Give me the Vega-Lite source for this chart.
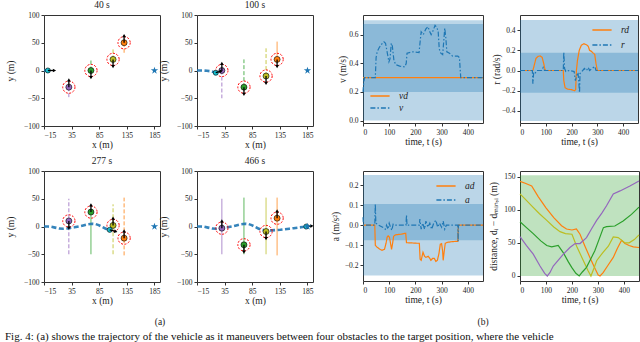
{
 "$schema": "https://vega.github.io/schema/vega-lite/v6.json",
 "padding": {"left": 5, "top": -1, "right": 0, "bottom": 0},
 "background": "white",
 "datasets": {
  "traj": [
   {"p":"40 s","t":"tr","o":"o1","k":"d","x":30,"y":-30,"y2":-50},
   {"p":"40 s","t":"tr","o":"o2","k":"d","x":70,"y":0,"y2":20},
   {"p":"40 s","t":"tr","o":"o3","k":"d","x":110,"y":20,"y2":40},
   {"p":"40 s","t":"tr","o":"o4","k":"d","x":130,"y":50,"y2":30},
   {"p":"40 s","t":"path","x":-15,"y":0},
   {"p":"40 s","t":"path","x":-8,"y":0},
   {"p":"40 s","t":"ob","o":"o1","x":30,"y":-30},
   {"p":"40 s","t":"ob","o":"o2","x":70,"y":0},
   {"p":"40 s","t":"ob","o":"o3","x":110,"y":20},
   {"p":"40 s","t":"ob","o":"o4","x":130,"y":50},
   {"p":"40 s","t":"veh","x":-8,"y":0},
   {"p":"40 s","t":"arr","x":-8,"y":0,"x2":4,"y2":0,"hd":90},
   {"p":"40 s","t":"arr","x":30,"y":-30,"x2":30,"y2":-17,"hd":0},
   {"p":"40 s","t":"arr","x":70,"y":0,"x2":70,"y2":-13,"hd":180},
   {"p":"40 s","t":"arr","x":110,"y":20,"x2":110,"y2":7,"hd":180},
   {"p":"40 s","t":"arr","x":130,"y":50,"x2":130,"y2":63,"hd":0},
   {"p":"40 s","t":"star","x":185,"y":0},

   {"p":"100 s","t":"tr","o":"o1","k":"d","x":30,"y":0,"y2":-50},
   {"p":"100 s","t":"tr","o":"o2","k":"d","x":70,"y":-30,"y2":20},
   {"p":"100 s","t":"tr","o":"o3","k":"d","x":110,"y":-10,"y2":40},
   {"p":"100 s","t":"tr","o":"o4","k":"s","x":130,"y":20,"y2":52},
   {"p":"100 s","t":"path","x":-15,"y":0},
   {"p":"100 s","t":"path","x":-5,"y":0},
   {"p":"100 s","t":"path","x":3,"y":-0.5},
   {"p":"100 s","t":"path","x":10,"y":-1.5},
   {"p":"100 s","t":"path","x":16,"y":-3},
   {"p":"100 s","t":"path","x":19,"y":-4},
   {"p":"100 s","t":"ob","o":"o1","x":30,"y":0},
   {"p":"100 s","t":"ob","o":"o2","x":70,"y":-30},
   {"p":"100 s","t":"ob","o":"o3","x":110,"y":-10},
   {"p":"100 s","t":"ob","o":"o4","x":130,"y":20},
   {"p":"100 s","t":"veh","x":19,"y":-4},
   {"p":"100 s","t":"arr","x":19,"y":-4,"x2":29,"y2":-1,"hd":73},
   {"p":"100 s","t":"arr","x":30,"y":0,"x2":30,"y2":13,"hd":0},
   {"p":"100 s","t":"arr","x":70,"y":-30,"x2":70,"y2":-43,"hd":180},
   {"p":"100 s","t":"arr","x":110,"y":-10,"x2":110,"y2":-23,"hd":180},
   {"p":"100 s","t":"arr","x":130,"y":20,"x2":130,"y2":7,"hd":180},
   {"p":"100 s","t":"star","x":185,"y":0},

   {"p":"277 s","t":"tr","o":"o1","k":"d","x":30,"y":-50,"y2":50},
   {"p":"277 s","t":"tr","o":"o2","k":"s","x":70,"y":-50,"y2":26},
   {"p":"277 s","t":"tr","o":"o3","k":"d","x":110,"y":-50,"y2":40},
   {"p":"277 s","t":"tr","o":"o4","k":"d","x":130,"y":-52,"y2":52},
   {"p":"277 s","t":"path","x":-15,"y":0},
   {"p":"277 s","t":"path","x":-8,"y":0},
   {"p":"277 s","t":"path","x":-2,"y":-0.5},
   {"p":"277 s","t":"path","x":5,"y":-2},
   {"p":"277 s","t":"path","x":12,"y":-3.5},
   {"p":"277 s","t":"path","x":20,"y":-4},
   {"p":"277 s","t":"path","x":27,"y":-3.5},
   {"p":"277 s","t":"path","x":33,"y":-2.5},
   {"p":"277 s","t":"path","x":40,"y":-1.5},
   {"p":"277 s","t":"path","x":48,"y":0},
   {"p":"277 s","t":"path","x":56,"y":2},
   {"p":"277 s","t":"path","x":64,"y":4},
   {"p":"277 s","t":"path","x":72,"y":5},
   {"p":"277 s","t":"path","x":78,"y":4.5},
   {"p":"277 s","t":"path","x":84,"y":2.5},
   {"p":"277 s","t":"path","x":90,"y":-0.5},
   {"p":"277 s","t":"path","x":96,"y":-3.5},
   {"p":"277 s","t":"path","x":101,"y":-5.5},
   {"p":"277 s","t":"path","x":104,"y":-6},
   {"p":"277 s","t":"ob","o":"o1","x":30,"y":10},
   {"p":"277 s","t":"ob","o":"o2","x":70,"y":26},
   {"p":"277 s","t":"ob","o":"o3","x":110,"y":2},
   {"p":"277 s","t":"ob","o":"o4","x":130,"y":-21},
   {"p":"277 s","t":"veh","x":104,"y":-6},
   {"p":"277 s","t":"arr","x":104,"y":-6,"x2":115,"y2":-9,"hd":105},
   {"p":"277 s","t":"arr","x":30,"y":10,"x2":30,"y2":-3,"hd":180},
   {"p":"277 s","t":"arr","x":70,"y":26,"x2":70,"y2":39,"hd":0},
   {"p":"277 s","t":"arr","x":110,"y":2,"x2":110,"y2":15,"hd":0},
   {"p":"277 s","t":"arr","x":130,"y":-21,"x2":130,"y2":-8,"hd":0},
   {"p":"277 s","t":"star","x":185,"y":0},

   {"p":"466 s","t":"tr","o":"o1","k":"s","x":30,"y":-50,"y2":50},
   {"p":"466 s","t":"tr","o":"o2","k":"s","x":70,"y":-50,"y2":52},
   {"p":"466 s","t":"tr","o":"o3","k":"s","x":110,"y":-50,"y2":52},
   {"p":"466 s","t":"tr","o":"o4","k":"s","x":130,"y":-52,"y2":52},
   {"p":"466 s","t":"path","x":-15,"y":0},
   {"p":"466 s","t":"path","x":-8,"y":0},
   {"p":"466 s","t":"path","x":-2,"y":-0.5},
   {"p":"466 s","t":"path","x":5,"y":-2},
   {"p":"466 s","t":"path","x":12,"y":-3.5},
   {"p":"466 s","t":"path","x":20,"y":-4},
   {"p":"466 s","t":"path","x":27,"y":-3.5},
   {"p":"466 s","t":"path","x":33,"y":-2.5},
   {"p":"466 s","t":"path","x":40,"y":-1.5},
   {"p":"466 s","t":"path","x":48,"y":0},
   {"p":"466 s","t":"path","x":56,"y":2},
   {"p":"466 s","t":"path","x":64,"y":4},
   {"p":"466 s","t":"path","x":72,"y":5},
   {"p":"466 s","t":"path","x":78,"y":4.5},
   {"p":"466 s","t":"path","x":84,"y":2.5},
   {"p":"466 s","t":"path","x":90,"y":-0.5},
   {"p":"466 s","t":"path","x":96,"y":-3.5},
   {"p":"466 s","t":"path","x":101,"y":-5.5},
   {"p":"466 s","t":"path","x":106,"y":-6.5},
   {"p":"466 s","t":"path","x":112,"y":-7},
   {"p":"466 s","t":"path","x":120,"y":-7},
   {"p":"466 s","t":"path","x":128,"y":-6.5},
   {"p":"466 s","t":"path","x":136,"y":-6},
   {"p":"466 s","t":"path","x":144,"y":-5},
   {"p":"466 s","t":"path","x":152,"y":-4},
   {"p":"466 s","t":"path","x":160,"y":-3},
   {"p":"466 s","t":"path","x":168,"y":-2},
   {"p":"466 s","t":"path","x":176,"y":-1},
   {"p":"466 s","t":"path","x":183,"y":0},
   {"p":"466 s","t":"ob","o":"o1","x":30,"y":-3},
   {"p":"466 s","t":"ob","o":"o2","x":70,"y":-33},
   {"p":"466 s","t":"ob","o":"o3","x":110,"y":-9},
   {"p":"466 s","t":"ob","o":"o4","x":130,"y":15},
   {"p":"466 s","t":"veh","x":183,"y":0},
   {"p":"466 s","t":"arr","x":183,"y":0,"x2":193,"y2":1,"hd":84},
   {"p":"466 s","t":"arr","x":30,"y":-3,"x2":30,"y2":10,"hd":0},
   {"p":"466 s","t":"arr","x":70,"y":-33,"x2":70,"y2":-46,"hd":180},
   {"p":"466 s","t":"arr","x":110,"y":-9,"x2":110,"y2":-22,"hd":180},
   {"p":"466 s","t":"arr","x":130,"y":15,"x2":130,"y2":28,"hd":0},
   {"p":"466 s","t":"star","x":185,"y":0}
  ],
  "bands": [
   {"pn":"v","lo":0,"hi":0.7},{"pn":"v","lo":0.2,"hi":0.675},
   {"pn":"r","lo":-0.5,"hi":0.5},{"pn":"r","lo":-0.22,"hi":0.175},
   {"pn":"a","lo":-0.25,"hi":0.25},{"pn":"a","lo":-0.075,"hi":0.105},
   {"pn":"d","lo":0,"hi":152}
  ],
  "vel": [
   {"s":"vd","t":0,"val":0.3},{"s":"vd","t":458,"val":0.3},
   {"s":"v","t":0,"val":0.2},{"s":"v","t":3,"val":0.27},{"s":"v","t":6,"val":0.3},{"s":"v","t":47,"val":0.3},
   {"s":"v","t":50,"val":0.44},{"s":"v","t":54,"val":0.48},{"s":"v","t":62,"val":0.51},{"s":"v","t":72,"val":0.535},
   {"s":"v","t":80,"val":0.55},{"s":"v","t":86,"val":0.54},{"s":"v","t":92,"val":0.48},{"s":"v","t":99,"val":0.41},
   {"s":"v","t":103,"val":0.43},{"s":"v","t":108,"val":0.54},{"s":"v","t":112,"val":0.52},{"s":"v","t":118,"val":0.42},
   {"s":"v","t":125,"val":0.39},{"s":"v","t":140,"val":0.38},{"s":"v","t":160,"val":0.375},{"s":"v","t":165,"val":0.4},
   {"s":"v","t":168,"val":0.47},{"s":"v","t":190,"val":0.48},{"s":"v","t":214,"val":0.475},{"s":"v","t":218,"val":0.55},
   {"s":"v","t":222,"val":0.62},{"s":"v","t":230,"val":0.6},{"s":"v","t":240,"val":0.64},{"s":"v","t":248,"val":0.655},
   {"s":"v","t":255,"val":0.62},{"s":"v","t":260,"val":0.6},{"s":"v","t":268,"val":0.63},{"s":"v","t":275,"val":0.665},
   {"s":"v","t":282,"val":0.65},{"s":"v","t":287,"val":0.62},{"s":"v","t":291,"val":0.5},{"s":"v","t":297,"val":0.47},
   {"s":"v","t":304,"val":0.46},{"s":"v","t":308,"val":0.55},{"s":"v","t":312,"val":0.645},{"s":"v","t":316,"val":0.58},
   {"s":"v","t":320,"val":0.48},{"s":"v","t":330,"val":0.47},{"s":"v","t":342,"val":0.45},{"s":"v","t":362,"val":0.45},
   {"s":"v","t":368,"val":0.44},{"s":"v","t":373,"val":0.3},{"s":"v","t":458,"val":0.3}
  ],
  "yaw": [
   {"s":"rd","t":0,"val":0},{"s":"rd","t":50,"val":0},{"s":"rd","t":55,"val":0.05},{"s":"rd","t":62,"val":0.12},
   {"s":"rd","t":70,"val":0.14},{"s":"rd","t":78,"val":0.145},{"s":"rd","t":86,"val":0.13},{"s":"rd","t":92,"val":0.07},
   {"s":"rd","t":96,"val":0.02},{"s":"rd","t":100,"val":0},{"s":"rd","t":168,"val":0},{"s":"rd","t":170,"val":-0.1},
   {"s":"rd","t":175,"val":-0.17},{"s":"rd","t":185,"val":-0.185},{"s":"rd","t":200,"val":-0.19},{"s":"rd","t":212,"val":-0.2},
   {"s":"rd","t":216,"val":-0.19},{"s":"rd","t":219,"val":0},{"s":"rd","t":223,"val":0.1},{"s":"rd","t":230,"val":0.2},
   {"s":"rd","t":238,"val":0.25},{"s":"rd","t":248,"val":0.265},{"s":"rd","t":258,"val":0.255},{"s":"rd","t":265,"val":0.24},
   {"s":"rd","t":270,"val":0.2},{"s":"rd","t":277,"val":0.19},{"s":"rd","t":285,"val":0.17},{"s":"rd","t":290,"val":0.16},
   {"s":"rd","t":295,"val":0.07},{"s":"rd","t":300,"val":0},{"s":"rd","t":458,"val":0},
   {"s":"r","t":0,"val":0},{"s":"r","t":48,"val":0},{"s":"r","t":50,"val":-0.13},{"s":"r","t":53,"val":-0.02},
   {"s":"r","t":58,"val":-0.03},{"s":"r","t":65,"val":0},{"s":"r","t":85,"val":0},{"s":"r","t":90,"val":0.03},
   {"s":"r","t":95,"val":0},{"s":"r","t":168,"val":0},{"s":"r","t":170,"val":0.18},{"s":"r","t":173,"val":0.02},
   {"s":"r","t":178,"val":-0.01},{"s":"r","t":190,"val":0},{"s":"r","t":210,"val":-0.01},{"s":"r","t":215,"val":-0.1},
   {"s":"r","t":220,"val":-0.05},{"s":"r","t":225,"val":-0.02},{"s":"r","t":228,"val":-0.1},{"s":"r","t":231,"val":-0.22},
   {"s":"r","t":233,"val":-0.03},{"s":"r","t":240,"val":-0.01},{"s":"r","t":250,"val":0.02},{"s":"r","t":258,"val":0},
   {"s":"r","t":265,"val":0.03},{"s":"r","t":270,"val":0},{"s":"r","t":280,"val":0.02},{"s":"r","t":290,"val":0.04},
   {"s":"r","t":295,"val":0},{"s":"r","t":458,"val":0}
  ],
  "acc": [
   {"s":"ad","t":0,"val":0},{"s":"ad","t":45,"val":0},{"s":"ad","t":47,"val":-0.1},{"s":"ad","t":54,"val":-0.11},
   {"s":"ad","t":65,"val":-0.12},{"s":"ad","t":73,"val":-0.125},{"s":"ad","t":82,"val":-0.12},{"s":"ad","t":88,"val":-0.09},
   {"s":"ad","t":92,"val":-0.06},{"s":"ad","t":96,"val":-0.053},{"s":"ad","t":101,"val":-0.06},{"s":"ad","t":105,"val":-0.09},
   {"s":"ad","t":109,"val":-0.12},{"s":"ad","t":113,"val":-0.09},{"s":"ad","t":117,"val":-0.055},{"s":"ad","t":124,"val":-0.048},
   {"s":"ad","t":144,"val":-0.045},{"s":"ad","t":163,"val":-0.04},{"s":"ad","t":166,"val":-0.087},{"s":"ad","t":208,"val":-0.09},
   {"s":"ad","t":215,"val":-0.09},{"s":"ad","t":218,"val":-0.17},{"s":"ad","t":222,"val":-0.175},{"s":"ad","t":229,"val":-0.135},
   {"s":"ad","t":235,"val":-0.155},{"s":"ad","t":240,"val":-0.16},{"s":"ad","t":249,"val":-0.155},{"s":"ad","t":255,"val":-0.165},
   {"s":"ad","t":259,"val":-0.175},{"s":"ad","t":266,"val":-0.165},{"s":"ad","t":272,"val":-0.165},{"s":"ad","t":278,"val":-0.18},
   {"s":"ad","t":284,"val":-0.175},{"s":"ad","t":290,"val":-0.14},{"s":"ad","t":295,"val":-0.095},{"s":"ad","t":300,"val":-0.092},
   {"s":"ad","t":304,"val":-0.13},{"s":"ad","t":306,"val":-0.175},{"s":"ad","t":310,"val":-0.13},{"s":"ad","t":314,"val":-0.09},
   {"s":"ad","t":323,"val":-0.085},{"s":"ad","t":340,"val":-0.082},{"s":"ad","t":362,"val":-0.08},{"s":"ad","t":364,"val":0},
   {"s":"ad","t":458,"val":0},
   {"s":"a","t":0,"val":0.04},{"s":"a","t":2,"val":0},{"s":"a","t":45,"val":0},{"s":"a","t":47,"val":0.105},
   {"s":"a","t":49,"val":0.01},{"s":"a","t":60,"val":0},{"s":"a","t":75,"val":-0.01},{"s":"a","t":85,"val":-0.02},
   {"s":"a","t":90,"val":0},{"s":"a","t":95,"val":-0.02},{"s":"a","t":100,"val":0.01},{"s":"a","t":105,"val":-0.01},
   {"s":"a","t":110,"val":-0.025},{"s":"a","t":115,"val":0.005},{"s":"a","t":120,"val":0},{"s":"a","t":164,"val":0},
   {"s":"a","t":166,"val":0.05},{"s":"a","t":168,"val":0},{"s":"a","t":215,"val":0},{"s":"a","t":217,"val":0.03},
   {"s":"a","t":222,"val":-0.02},{"s":"a","t":228,"val":0.01},{"s":"a","t":235,"val":-0.02},{"s":"a","t":240,"val":0.02},
   {"s":"a","t":248,"val":-0.01},{"s":"a","t":255,"val":0.01},{"s":"a","t":262,"val":-0.02},{"s":"a","t":270,"val":0.01},
   {"s":"a","t":278,"val":0.025},{"s":"a","t":285,"val":-0.01},{"s":"a","t":292,"val":0.01},{"s":"a","t":300,"val":-0.01},
   {"s":"a","t":306,"val":0.02},{"s":"a","t":312,"val":-0.02},{"s":"a","t":318,"val":0},{"s":"a","t":362,"val":0},
   {"s":"a","t":363,"val":-0.08},{"s":"a","t":364,"val":0},{"s":"a","t":458,"val":0}
  ],
  "dist": [
   {"o":"o4","t":0,"d":143},{"o":"o4","t":20,"d":140},{"o":"o4","t":45,"d":136},{"o":"o4","t":70,"d":120},{"o":"o4","t":100,"d":103},
   {"o":"o4","t":130,"d":88},{"o":"o4","t":160,"d":76},{"o":"o4","t":179,"d":71},{"o":"o4","t":200,"d":69.5},{"o":"o4","t":217,"d":71},
   {"o":"o4","t":231,"d":63},{"o":"o4","t":250,"d":45},{"o":"o4","t":269,"d":28},{"o":"o4","t":290,"d":10},{"o":"o4","t":301,"d":1.5},
   {"o":"o4","t":308,"d":0},{"o":"o4","t":320,"d":5},{"o":"o4","t":340,"d":17},{"o":"o4","t":359,"d":28},{"o":"o4","t":375,"d":42},
   {"o":"o4","t":391,"d":54},{"o":"o4","t":404,"d":49},{"o":"o4","t":420,"d":46},{"o":"o4","t":436,"d":44},{"o":"o4","t":458,"d":43},
   {"o":"o3","t":0,"d":124},{"o":"o3","t":20,"d":116},{"o":"o3","t":45,"d":106},{"o":"o3","t":75,"d":94},{"o":"o3","t":103,"d":84},
   {"o":"o3","t":130,"d":74},{"o":"o3","t":154,"d":67},{"o":"o3","t":175,"d":64},{"o":"o3","t":200,"d":63},{"o":"o3","t":218,"d":45},
   {"o":"o3","t":244,"d":23},{"o":"o3","t":262,"d":8},{"o":"o3","t":273,"d":0},{"o":"o3","t":285,"d":12},{"o":"o3","t":295,"d":23},
   {"o":"o3","t":318,"d":35},{"o":"o3","t":340,"d":45},{"o":"o3","t":359,"d":59},{"o":"o3","t":378,"d":58},{"o":"o3","t":404,"d":50},
   {"o":"o3","t":420,"d":50},{"o":"o3","t":440,"d":55},{"o":"o3","t":458,"d":62},
   {"o":"o2","t":0,"d":82},{"o":"o2","t":25,"d":73},{"o":"o2","t":51,"d":64},{"o":"o2","t":80,"d":53},{"o":"o2","t":103,"d":46},
   {"o":"o2","t":122,"d":44},{"o":"o2","t":147,"d":46},{"o":"o2","t":167,"d":35},{"o":"o2","t":185,"d":22},{"o":"o2","t":199,"d":13},
   {"o":"o2","t":215,"d":4},{"o":"o2","t":228,"d":0},{"o":"o2","t":240,"d":6},{"o":"o2","t":256,"d":13},{"o":"o2","t":275,"d":28},
   {"o":"o2","t":288,"d":38},{"o":"o2","t":305,"d":56},{"o":"o2","t":321,"d":73},{"o":"o2","t":333,"d":74.5},{"o":"o2","t":365,"d":75.5},
   {"o":"o2","t":397,"d":83},{"o":"o2","t":429,"d":93},{"o":"o2","t":458,"d":104},
   {"o":"o1","t":0,"d":59.4},{"o":"o1","t":25,"d":46},{"o":"o1","t":51,"d":33},{"o":"o1","t":77,"d":15},{"o":"o1","t":95,"d":4},
   {"o":"o1","t":105,"d":0},{"o":"o1","t":115,"d":5},{"o":"o1","t":128,"d":15},{"o":"o1","t":150,"d":25},{"o":"o1","t":167,"d":33},
   {"o":"o1","t":192,"d":43},{"o":"o1","t":212,"d":49},{"o":"o1","t":231,"d":49},{"o":"o1","t":256,"d":58},{"o":"o1","t":275,"d":71},
   {"o":"o1","t":295,"d":84},{"o":"o1","t":315,"d":95},{"o":"o1","t":333,"d":106},{"o":"o1","t":359,"d":124},{"o":"o1","t":385,"d":128.5},
   {"o":"o1","t":423,"d":136},{"o":"o1","t":458,"d":143.5}
  ]
 },
 "concat": [
  {
   "data": {"name": "traj"}, "transform": [{"filter": "datum.p == '40 s'"}],
   "title": {"text": "40 s"},
   "width": 116, "height": 111,
   "encoding": {
    "x": {"field": "x", "type": "quantitative", "scale": {"domain": [-15, 195], "nice": false, "zero": false}, "axis": {"values": [-15, 35, 85, 135, 185], "title": "x (m)"}},
    "y": {"field": "y", "type": "quantitative", "scale": {"domain": [-100, 100], "nice": false}, "axis": {"values": [-100, -50, 0, 50, 100], "title": "y (m)", "titlePadding": 8}}
   },
   "layer": [
    {"transform": [{"filter": "datum.t == 'tr'"}], "mark": {"type": "rule", "strokeWidth": 1, "opacity": 0.8},
     "encoding": {"y2": {"field": "y2"}, "color": {"field": "o", "type": "nominal", "scale": {"domain": ["o1", "o2", "o3", "o4"], "range": ["#9467bd", "#2ca02c", "#bcbd22", "#ff7f0e"]}, "legend": null}, "strokeDash": {"field": "k", "type": "nominal", "scale": {"domain": ["d", "s"], "range": [[4, 2], [1, 0]]}, "legend": null}}},
    {"transform": [{"filter": "datum.t == 'path'"}], "mark": {"type": "line", "color": "#1f77b4", "strokeWidth": 2.6, "strokeDash": [5, 2.5], "opacity": 0.9}, "encoding": {}},
    {"transform": [{"filter": "datum.t == 'ob'"}], "mark": {"type": "point", "shape": "circle", "size": 150, "filled": false, "stroke": "#ff0000", "strokeWidth": 1, "strokeDash": [2, 1.5], "opacity": 1}, "encoding": {}},
    {"transform": [{"filter": "datum.t == 'ob'"}], "mark": {"type": "point", "shape": "circle", "size": 36, "filled": true, "stroke": "black", "strokeWidth": 0.6, "opacity": 1},
     "encoding": {"color": {"field": "o", "type": "nominal", "scale": {"domain": ["o1", "o2", "o3", "o4"], "range": ["#9467bd", "#2ca02c", "#bcbd22", "#ff7f0e"]}, "legend": null}}},
    {"transform": [{"filter": "datum.t == 'veh'"}], "mark": {"type": "point", "shape": "circle", "size": 26, "filled": true, "fill": "#17becf", "stroke": "black", "strokeWidth": 0.6, "opacity": 1}, "encoding": {}},
    {"transform": [{"filter": "datum.t == 'arr'"}], "mark": {"type": "rule", "color": "black", "strokeWidth": 1.3}, "encoding": {"x2": {"field": "x2"}, "y2": {"field": "y2"}}},
    {"transform": [{"filter": "datum.t == 'arr'"}], "mark": {"type": "point", "shape": "triangle-up", "size": 14, "filled": true, "color": "black", "opacity": 1},
     "encoding": {"x": {"field": "x2", "type": "quantitative", "axis": {"values": [-15, 35, 85, 135, 185], "title": "x (m)"}}, "y": {"field": "y2", "type": "quantitative", "axis": {"values": [-100, -50, 0, 50, 100], "title": "y (m)", "titlePadding": 8}}, "angle": {"field": "hd", "type": "quantitative", "scale": null}}},
    {"transform": [{"filter": "datum.t == 'star'"}], "mark": {"type": "point", "shape": "M0,-1L0.22,-0.31L0.95,-0.31L0.36,0.12L0.59,0.81L0,0.38L-0.59,0.81L-0.36,0.12L-0.95,-0.31L-0.22,-0.31Z", "size": 60, "filled": true, "color": "#1f77b4", "opacity": 1}, "encoding": {}}
   ]
  },
  {
   "data": {"name": "traj"}, "transform": [{"filter": "datum.p == '100 s'"}],
   "title": {"text": "100 s"},
   "width": 116, "height": 111,
   "encoding": {
    "x": {"field": "x", "type": "quantitative", "scale": {"domain": [-15, 195], "nice": false, "zero": false}, "axis": {"values": [-15, 35, 85, 135, 185], "title": "x (m)"}},
    "y": {"field": "y", "type": "quantitative", "scale": {"domain": [-100, 100], "nice": false}, "axis": {"values": [-100, -50, 0, 50, 100], "title": "y (m)", "titlePadding": 8}}
   },
   "layer": [
    {"transform": [{"filter": "datum.t == 'tr'"}], "mark": {"type": "rule", "strokeWidth": 1, "opacity": 0.8},
     "encoding": {"y2": {"field": "y2"}, "color": {"field": "o", "type": "nominal", "scale": {"domain": ["o1", "o2", "o3", "o4"], "range": ["#9467bd", "#2ca02c", "#bcbd22", "#ff7f0e"]}, "legend": null}, "strokeDash": {"field": "k", "type": "nominal", "scale": {"domain": ["d", "s"], "range": [[4, 2], [1, 0]]}, "legend": null}}},
    {"transform": [{"filter": "datum.t == 'path'"}], "mark": {"type": "line", "color": "#1f77b4", "strokeWidth": 2.6, "strokeDash": [5, 2.5], "opacity": 0.9}, "encoding": {}},
    {"transform": [{"filter": "datum.t == 'ob'"}], "mark": {"type": "point", "shape": "circle", "size": 150, "filled": false, "stroke": "#ff0000", "strokeWidth": 1, "strokeDash": [2, 1.5], "opacity": 1}, "encoding": {}},
    {"transform": [{"filter": "datum.t == 'ob'"}], "mark": {"type": "point", "shape": "circle", "size": 36, "filled": true, "stroke": "black", "strokeWidth": 0.6, "opacity": 1},
     "encoding": {"color": {"field": "o", "type": "nominal", "scale": {"domain": ["o1", "o2", "o3", "o4"], "range": ["#9467bd", "#2ca02c", "#bcbd22", "#ff7f0e"]}, "legend": null}}},
    {"transform": [{"filter": "datum.t == 'veh'"}], "mark": {"type": "point", "shape": "circle", "size": 26, "filled": true, "fill": "#17becf", "stroke": "black", "strokeWidth": 0.6, "opacity": 1}, "encoding": {}},
    {"transform": [{"filter": "datum.t == 'arr'"}], "mark": {"type": "rule", "color": "black", "strokeWidth": 1.3}, "encoding": {"x2": {"field": "x2"}, "y2": {"field": "y2"}}},
    {"transform": [{"filter": "datum.t == 'arr'"}], "mark": {"type": "point", "shape": "triangle-up", "size": 14, "filled": true, "color": "black", "opacity": 1},
     "encoding": {"x": {"field": "x2", "type": "quantitative", "axis": {"values": [-15, 35, 85, 135, 185], "title": "x (m)"}}, "y": {"field": "y2", "type": "quantitative", "axis": {"values": [-100, -50, 0, 50, 100], "title": "y (m)", "titlePadding": 8}}, "angle": {"field": "hd", "type": "quantitative", "scale": null}}},
    {"transform": [{"filter": "datum.t == 'star'"}], "mark": {"type": "point", "shape": "M0,-1L0.22,-0.31L0.95,-0.31L0.36,0.12L0.59,0.81L0,0.38L-0.59,0.81L-0.36,0.12L-0.95,-0.31L-0.22,-0.31Z", "size": 60, "filled": true, "color": "#1f77b4", "opacity": 1}, "encoding": {}}
   ]
  },
  {
   "width": 120, "height": 108,
   "layer": [
    {"data": {"name": "bands"}, "transform": [{"filter": "datum.pn == 'v'"}], "mark": {"type": "rect", "color": "#1f77b4", "opacity": 0.3},
     "encoding": {"y": {"field": "lo", "type": "quantitative", "scale": {"domain": [-0.017, 0.737], "nice": false, "zero": false}, "axis": {"values": [0, 0.2, 0.4, 0.6], "format": ".1f", "title": "v (m/s)", "titlePadding": 1}}, "y2": {"field": "hi"}}},
    {"data": {"name": "vel"}, "mark": {"type": "line", "strokeWidth": 1.2},
     "encoding": {
      "x": {"field": "t", "type": "quantitative", "scale": {"domain": [0, 458], "nice": false}, "axis": {"values": [0, 100, 200, 300, 400], "title": "time, t (s)"}},
      "y": {"field": "val", "type": "quantitative", "axis": {"values": [0, 0.2, 0.4, 0.6], "format": ".1f", "title": "v (m/s)", "titlePadding": 1}},
      "color": {"field": "s", "type": "nominal", "scale": {"domain": ["vd", "v"], "range": ["#ff7f0e", "#1f77b4"]}, "legend": {"orient": "bottom-left", "title": null, "symbolType": "M-1.6,0L1.6,0", "symbolSize": 144, "symbolStrokeWidth": 1.5, "labelFontSize": 9.5, "labelFontStyle": "italic", "rowPadding": 0, "offset": 10, "padding": 0, "labelOffset": 12}},
      "strokeDash": {"field": "s", "type": "nominal", "scale": {"domain": ["vd", "v"], "range": [[1, 0], [5, 2, 1.5, 2]]}, "legend": {"orient": "bottom-left", "title": null, "symbolType": "M-1.6,0L1.6,0", "symbolSize": 144, "symbolStrokeWidth": 1.5, "labelFontSize": 9.5, "labelFontStyle": "italic", "rowPadding": 0, "offset": 10, "padding": 0, "labelOffset": 12}}}}
   ]
  },
  {
   "width": 118, "height": 108,
   "layer": [
    {"data": {"name": "bands"}, "transform": [{"filter": "datum.pn == 'r'"}], "mark": {"type": "rect", "color": "#1f77b4", "opacity": 0.3},
     "encoding": {"y": {"field": "lo", "type": "quantitative", "scale": {"domain": [-0.52, 0.55], "nice": false, "zero": false}, "axis": {"values": [-0.4, -0.2, 0, 0.2, 0.4], "format": ".1f", "title": "r (rad/s)", "titlePadding": 0}}, "y2": {"field": "hi"}}},
    {"data": {"name": "yaw"}, "mark": {"type": "line", "strokeWidth": 1.2},
     "encoding": {
      "x": {"field": "t", "type": "quantitative", "scale": {"domain": [0, 458], "nice": false}, "axis": {"values": [0, 100, 200, 300, 400], "title": "time, t (s)"}},
      "y": {"field": "val", "type": "quantitative", "axis": {"values": [-0.4, -0.2, 0, 0.2, 0.4], "format": ".1f", "title": "r (rad/s)", "titlePadding": 0}},
      "color": {"field": "s", "type": "nominal", "scale": {"domain": ["rd", "r"], "range": ["#ff7f0e", "#1f77b4"]}, "legend": {"orient": "top-right", "title": null, "symbolType": "M-1.6,0L1.6,0", "symbolSize": 144, "symbolStrokeWidth": 1.5, "labelFontSize": 9.5, "labelFontStyle": "italic", "rowPadding": 3, "offset": 8, "padding": 0, "labelOffset": 12}},
      "strokeDash": {"field": "s", "type": "nominal", "scale": {"domain": ["rd", "r"], "range": [[1, 0], [5, 2, 1.5, 2]]}, "legend": {"orient": "top-right", "title": null, "symbolType": "M-1.6,0L1.6,0", "symbolSize": 144, "symbolStrokeWidth": 1.5, "labelFontSize": 9.5, "labelFontStyle": "italic", "rowPadding": 3, "offset": 8, "padding": 0, "labelOffset": 12}}}}
   ]
  },
  {
   "data": {"name": "traj"}, "transform": [{"filter": "datum.p == '277 s'"}],
   "title": {"text": "277 s"},
   "width": 116, "height": 111,
   "encoding": {
    "x": {"field": "x", "type": "quantitative", "scale": {"domain": [-15, 195], "nice": false, "zero": false}, "axis": {"values": [-15, 35, 85, 135, 185], "title": "x (m)"}},
    "y": {"field": "y", "type": "quantitative", "scale": {"domain": [-100, 100], "nice": false}, "axis": {"values": [-100, -50, 0, 50, 100], "title": "y (m)", "titlePadding": 8}}
   },
   "layer": [
    {"transform": [{"filter": "datum.t == 'tr'"}], "mark": {"type": "rule", "strokeWidth": 1, "opacity": 0.8},
     "encoding": {"y2": {"field": "y2"}, "color": {"field": "o", "type": "nominal", "scale": {"domain": ["o1", "o2", "o3", "o4"], "range": ["#9467bd", "#2ca02c", "#bcbd22", "#ff7f0e"]}, "legend": null}, "strokeDash": {"field": "k", "type": "nominal", "scale": {"domain": ["d", "s"], "range": [[4, 2], [1, 0]]}, "legend": null}}},
    {"transform": [{"filter": "datum.t == 'path'"}], "mark": {"type": "line", "color": "#1f77b4", "strokeWidth": 2.6, "strokeDash": [5, 2.5], "opacity": 0.9}, "encoding": {}},
    {"transform": [{"filter": "datum.t == 'ob'"}], "mark": {"type": "point", "shape": "circle", "size": 150, "filled": false, "stroke": "#ff0000", "strokeWidth": 1, "strokeDash": [2, 1.5], "opacity": 1}, "encoding": {}},
    {"transform": [{"filter": "datum.t == 'ob'"}], "mark": {"type": "point", "shape": "circle", "size": 36, "filled": true, "stroke": "black", "strokeWidth": 0.6, "opacity": 1},
     "encoding": {"color": {"field": "o", "type": "nominal", "scale": {"domain": ["o1", "o2", "o3", "o4"], "range": ["#9467bd", "#2ca02c", "#bcbd22", "#ff7f0e"]}, "legend": null}}},
    {"transform": [{"filter": "datum.t == 'veh'"}], "mark": {"type": "point", "shape": "circle", "size": 26, "filled": true, "fill": "#17becf", "stroke": "black", "strokeWidth": 0.6, "opacity": 1}, "encoding": {}},
    {"transform": [{"filter": "datum.t == 'arr'"}], "mark": {"type": "rule", "color": "black", "strokeWidth": 1.3}, "encoding": {"x2": {"field": "x2"}, "y2": {"field": "y2"}}},
    {"transform": [{"filter": "datum.t == 'arr'"}], "mark": {"type": "point", "shape": "triangle-up", "size": 14, "filled": true, "color": "black", "opacity": 1},
     "encoding": {"x": {"field": "x2", "type": "quantitative", "axis": {"values": [-15, 35, 85, 135, 185], "title": "x (m)"}}, "y": {"field": "y2", "type": "quantitative", "axis": {"values": [-100, -50, 0, 50, 100], "title": "y (m)", "titlePadding": 8}}, "angle": {"field": "hd", "type": "quantitative", "scale": null}}},
    {"transform": [{"filter": "datum.t == 'star'"}], "mark": {"type": "point", "shape": "M0,-1L0.22,-0.31L0.95,-0.31L0.36,0.12L0.59,0.81L0,0.38L-0.59,0.81L-0.36,0.12L-0.95,-0.31L-0.22,-0.31Z", "size": 60, "filled": true, "color": "#1f77b4", "opacity": 1}, "encoding": {}}
   ]
  },
  {
   "data": {"name": "traj"}, "transform": [{"filter": "datum.p == '466 s'"}],
   "title": {"text": "466 s"},
   "width": 116, "height": 111,
   "encoding": {
    "x": {"field": "x", "type": "quantitative", "scale": {"domain": [-15, 195], "nice": false, "zero": false}, "axis": {"values": [-15, 35, 85, 135, 185], "title": "x (m)"}},
    "y": {"field": "y", "type": "quantitative", "scale": {"domain": [-100, 100], "nice": false}, "axis": {"values": [-100, -50, 0, 50, 100], "title": "y (m)", "titlePadding": 8}}
   },
   "layer": [
    {"transform": [{"filter": "datum.t == 'tr'"}], "mark": {"type": "rule", "strokeWidth": 1, "opacity": 0.8},
     "encoding": {"y2": {"field": "y2"}, "color": {"field": "o", "type": "nominal", "scale": {"domain": ["o1", "o2", "o3", "o4"], "range": ["#9467bd", "#2ca02c", "#bcbd22", "#ff7f0e"]}, "legend": null}, "strokeDash": {"field": "k", "type": "nominal", "scale": {"domain": ["d", "s"], "range": [[4, 2], [1, 0]]}, "legend": null}}},
    {"transform": [{"filter": "datum.t == 'path'"}], "mark": {"type": "line", "color": "#1f77b4", "strokeWidth": 2.6, "strokeDash": [5, 2.5], "opacity": 0.9}, "encoding": {}},
    {"transform": [{"filter": "datum.t == 'ob'"}], "mark": {"type": "point", "shape": "circle", "size": 150, "filled": false, "stroke": "#ff0000", "strokeWidth": 1, "strokeDash": [2, 1.5], "opacity": 1}, "encoding": {}},
    {"transform": [{"filter": "datum.t == 'ob'"}], "mark": {"type": "point", "shape": "circle", "size": 36, "filled": true, "stroke": "black", "strokeWidth": 0.6, "opacity": 1},
     "encoding": {"color": {"field": "o", "type": "nominal", "scale": {"domain": ["o1", "o2", "o3", "o4"], "range": ["#9467bd", "#2ca02c", "#bcbd22", "#ff7f0e"]}, "legend": null}}},
    {"transform": [{"filter": "datum.t == 'veh'"}], "mark": {"type": "point", "shape": "circle", "size": 26, "filled": true, "fill": "#17becf", "stroke": "black", "strokeWidth": 0.6, "opacity": 1}, "encoding": {}},
    {"transform": [{"filter": "datum.t == 'arr'"}], "mark": {"type": "rule", "color": "black", "strokeWidth": 1.3}, "encoding": {"x2": {"field": "x2"}, "y2": {"field": "y2"}}},
    {"transform": [{"filter": "datum.t == 'arr'"}], "mark": {"type": "point", "shape": "triangle-up", "size": 14, "filled": true, "color": "black", "opacity": 1},
     "encoding": {"x": {"field": "x2", "type": "quantitative", "axis": {"values": [-15, 35, 85, 135, 185], "title": "x (m)"}}, "y": {"field": "y2", "type": "quantitative", "axis": {"values": [-100, -50, 0, 50, 100], "title": "y (m)", "titlePadding": 8}}, "angle": {"field": "hd", "type": "quantitative", "scale": null}}},
    {"transform": [{"filter": "datum.t == 'star'"}], "mark": {"type": "point", "shape": "M0,-1L0.22,-0.31L0.95,-0.31L0.36,0.12L0.59,0.81L0,0.38L-0.59,0.81L-0.36,0.12L-0.95,-0.31L-0.22,-0.31Z", "size": 60, "filled": true, "color": "#1f77b4", "opacity": 1}, "encoding": {}}
   ]
  },
  {
   "width": 120, "height": 110,
   "layer": [
    {"data": {"name": "bands"}, "transform": [{"filter": "datum.pn == 'a'"}], "mark": {"type": "rect", "color": "#1f77b4", "opacity": 0.3},
     "encoding": {"y": {"field": "lo", "type": "quantitative", "scale": {"domain": [-0.278, 0.27], "nice": false, "zero": false}, "axis": {"values": [-0.2, -0.1, 0, 0.1, 0.2], "format": ".1f", "title": "a (m/s²)", "titlePadding": 4}}, "y2": {"field": "hi"}}},
    {"data": {"name": "acc"}, "mark": {"type": "line", "strokeWidth": 1.2},
     "encoding": {
      "x": {"field": "t", "type": "quantitative", "scale": {"domain": [0, 458], "nice": false}, "axis": {"values": [0, 100, 200, 300, 400], "title": "time, t (s)"}},
      "y": {"field": "val", "type": "quantitative", "axis": {"values": [-0.2, -0.1, 0, 0.1, 0.2], "format": ".1f", "title": "a (m/s²)", "titlePadding": 4}},
      "color": {"field": "s", "type": "nominal", "scale": {"domain": ["ad", "a"], "range": ["#ff7f0e", "#1f77b4"]}, "legend": {"orient": "top-right", "title": null, "symbolType": "M-1.6,0L1.6,0", "symbolSize": 144, "symbolStrokeWidth": 1.5, "labelFontSize": 9.5, "labelFontStyle": "italic", "rowPadding": 2, "offset": 8, "padding": 0, "labelOffset": 12}},
      "strokeDash": {"field": "s", "type": "nominal", "scale": {"domain": ["ad", "a"], "range": [[1, 0], [5, 2, 1.5, 2]]}, "legend": {"orient": "top-right", "title": null, "symbolType": "M-1.6,0L1.6,0", "symbolSize": 144, "symbolStrokeWidth": 1.5, "labelFontSize": 9.5, "labelFontStyle": "italic", "rowPadding": 2, "offset": 8, "padding": 0, "labelOffset": 12}}}}
   ]
  },
  {
   "width": 119, "height": 110,
   "layer": [
    {"data": {"name": "bands"}, "transform": [{"filter": "datum.pn == 'd'"}], "mark": {"type": "rect", "color": "#2ca02c", "opacity": 0.3},
     "encoding": {"y": {"field": "lo", "type": "quantitative", "scale": {"domain": [-7.6, 158.6], "nice": false, "zero": false}, "axis": {"values": [0, 50, 100, 150], "title": "distance, dᵢ − dₘᵢₙ,ᵢ (m)", "titlePadding": 5}}, "y2": {"field": "hi"}}},
    {"data": {"name": "dist"}, "mark": {"type": "line", "strokeWidth": 1.2},
     "encoding": {
      "x": {"field": "t", "type": "quantitative", "scale": {"domain": [0, 458], "nice": false}, "axis": {"values": [0, 100, 200, 300, 400], "title": "time, t (s)"}},
      "y": {"field": "d", "type": "quantitative", "axis": {"values": [0, 50, 100, 150], "title": "distance, dᵢ − dₘᵢₙ,ᵢ (m)", "titlePadding": 5}},
      "color": {"field": "o", "type": "nominal", "scale": {"domain": ["o1", "o2", "o3", "o4"], "range": ["#9467bd", "#2ca02c", "#bcbd22", "#ff7f0e"]}, "legend": null}}}
   ]
  },
  {
   "width": 116, "height": 1,
   "data": {"values": []},
   "mark": "point",
   "view": {"stroke": null},
   "title": {"text": "(a)", "anchor": "end", "align": "center", "orient": "top", "offset": 1, "fontSize": 9.5}
  },
  {
   "width": 129, "height": 1,
   "data": {"values": []},
   "mark": "point",
   "view": {"stroke": null},
   "title": {"text": "Fig. 4: (a) shows the trajectory of the vehicle as it maneuvers between four obstacles to the target position, where the vehicle", "orient": "bottom", "anchor": "start", "align": "left", "dx": -192, "offset": 3, "fontSize": 11, "color": "#111"}
  },
  {
   "width": 120, "height": 1,
   "data": {"values": []},
   "mark": "point",
   "view": {"stroke": null},
   "title": {"text": "(b)", "anchor": "end", "align": "center", "orient": "top", "offset": 1, "fontSize": 9.5}
  }
 ],
 "columns": 4,
 "spacing": {"column": 37, "row": 45},
 "bounds": "flush",
 "align": "each",
 "resolve": {"scale": {"color": "independent", "strokeDash": "independent"}, "legend": {"color": "independent", "strokeDash": "independent"}},
 "config": {
  "font": "Liberation Serif",
  "view": {"stroke": "#333", "strokeWidth": 1},
  "axis": {"grid": false, "domain": false, "ticks": true, "tickSize": 3, "tickColor": "#333", "labelFontSize": 7.5, "labelColor": "#222", "titleFontSize": 9.5, "titleFontWeight": "normal", "titleColor": "#222", "labelPadding": 2, "titlePadding": 3},
  "axisX": {"titlePadding": 1},
  "title": {"font": "Liberation Serif", "fontWeight": "normal", "color": "#222", "fontSize": 9.5, "offset": 2, "frame": "group"},
  "legend": {"labelFont": "Liberation Serif", "labelColor": "#222"}
 }
}
